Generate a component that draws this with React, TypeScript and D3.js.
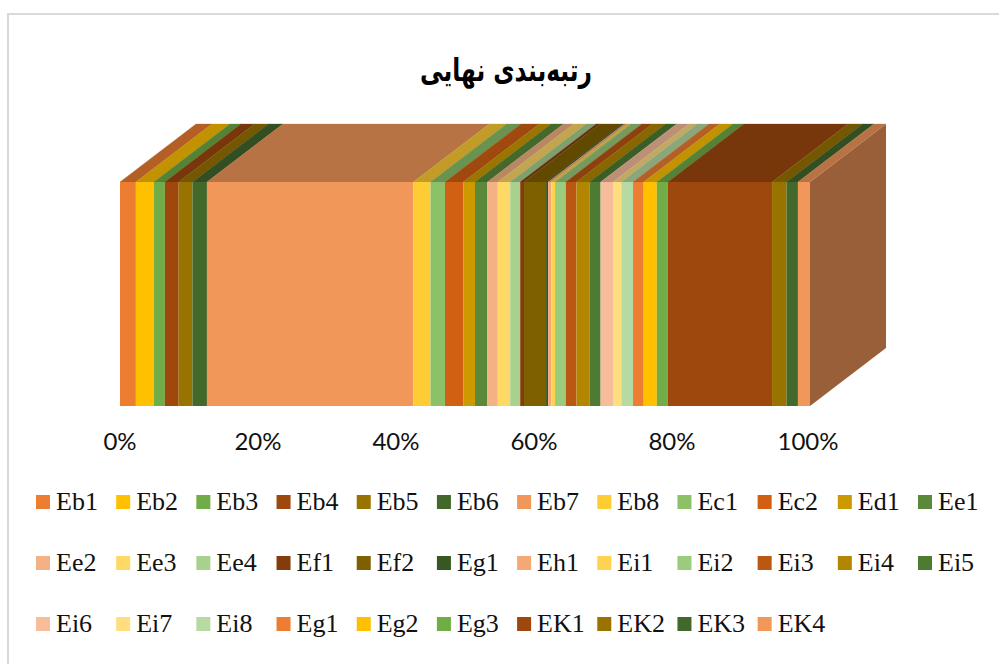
import React from "react";
import * as d3 from "d3";

const seriesNames = ["Eb1","Eb2","Eb3","Eb4","Eb5","Eb6","Eb7","Eb8","Ec1","Ec2","Ed1","Ee1","Ee2","Ee3","Ee4","Ef1","Ef2","Eg1","Eh1","Ei1","Ei2","Ei3","Ei4","Ei5","Ei6","Ei7","Ei8","Eg1","Eg2","Eg3","EK1","EK2","EK3","EK4"];
const seriesValues = [2.3,2.6,1.6,2.0,2.0,2.1,29.9,2.5,2.1,2.65,1.7,1.8,1.5,1.8,1.45,0.55,3.2,0.3,0.45,0.55,1.55,1.55,1.9,1.6,1.8,1.2,1.7,1.55,1.9,1.6,15.1,2.1,1.65,1.75];
const seriesColors = ["#ED7D31","#FFC000","#70AD47","#9E480E","#997300","#43682B","#F1975A","#FFCD33","#8CC168","#D26012","#CC9A00","#5A8A39","#F4B183","#FFD966","#A9D18E","#843C0C","#7F6000","#385723","#F4A875","#FFD34F","#9BCB7C","#BA5713","#B38600","#4E7A32","#F7BD9B","#FFDE80","#B7DAA2","#ED7D31","#FFC000","#70AD47","#9E480E","#997300","#43682B","#F1975A"];
const tickValues = [0,20,40,60,80,100];
const titleText = "رتبه‌بندی نهایی";

export default function App() {
  const W = 999, H = 664;
  const x = d3.scaleLinear().domain([0,100]).range([120,810]);
  const yTop = 182, yBot = 406, dx = 76, dy = 58;
  const total = d3.sum(seriesValues);
  const cum = Array.from(d3.cumsum(seriesValues)).map(v => v / total * 100);
  const starts = [0, ...cum.slice(0,-1)];
  const shade = (c: string, k: number) => {
    const r = d3.rgb(c);
    return d3.rgb(r.r*k, r.g*k, r.b*k).formatHex();
  };
  const poly = d3.line<[number,number]>();
  const last = seriesColors.length - 1;
  const legendX = d3.scaleLinear().domain([0,11]).range([36,918]);
  const legendY = d3.scaleLinear().domain([0,2]).range([495,617]);
  return (
    <svg width={W} height={H} style={{position:"fixed",left:0,top:0,display:"block",background:"#fff"}}>
      <path d={`M8 664V14H999`} fill="none" stroke="#D9D9D9" strokeWidth={2}/>
      <text x={506} y={81} textAnchor="middle" direction="rtl" fontFamily="'DejaVu Sans'" fontWeight="bold" fontSize={31} textLength={172} lengthAdjust="spacingAndGlyphs" fill="#000">{titleText}</text>
      <path d={poly([[x(100),yTop],[x(100)+dx,yTop-dy],[x(100)+dx,yBot-dy],[x(100),yBot]])!+"Z"} fill={shade(seriesColors[last],0.63)}/>
      {seriesValues.map((_,i)=>{
        const a=x(starts[i]), b=x(cum[i]);
        return <g key={i}>
          <path d={poly([[a,yTop],[a+dx,yTop-dy],[b+dx,yTop-dy],[b,yTop]])!+"Z"} fill={shade(seriesColors[i],0.76)} stroke={shade(seriesColors[i],0.76)} strokeWidth={0.3}/>
          <rect x={a} y={yTop} width={b-a} height={yBot-yTop} fill={seriesColors[i]}/>
        </g>;
      })}
      {tickValues.map(t=>(
        <text key={t} x={x(t)-(t===100?2:0)} y={450} textAnchor="middle" fontFamily="Lato" fontSize={24} fill="#111">{t}%</text>
      ))}
      {seriesNames.map((n,i)=>{
        const col=i%12,row=Math.floor(i/12);
        const lx=legendX(col),ly=legendY(row);
        return <g key={i}>
          <rect x={lx} y={ly} width={14} height={14} fill={seriesColors[i]}/>
          <text x={lx+20} y={ly+15} fontFamily="'Liberation Serif'" fontSize={26} fill="#111">{n}</text>
        </g>;
      })}
    </svg>
  );
}
